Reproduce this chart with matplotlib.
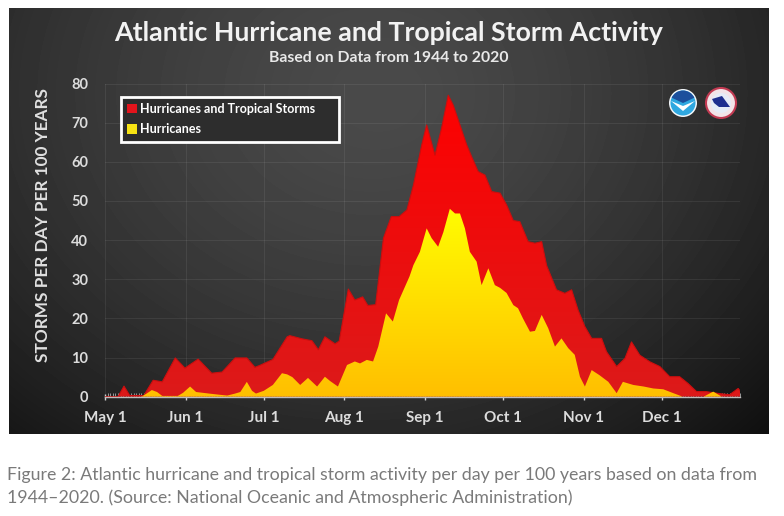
import numpy as np
import matplotlib.pyplot as plt
from matplotlib.patches import Patch, Polygon, Circle, Wedge
from matplotlib.colors import LinearSegmentedColormap

plt.rcParams['font.family'] = ['Lato', 'DejaVu Sans']

# day 0 = May 1, day 244 = Dec 31
month_days = [0, 31, 61, 92, 123, 153, 184, 214]
month_labels = ["May 1", "Jun 1", "Jul 1", "Aug 1", "Sep 1", "Oct 1", "Nov 1", "Dec 1"]
y_ticks = [0, 10, 20, 30, 40, 50, 60, 70, 80]

# hurricanes and tropical storms
all_days = [0, 5, 7.3, 9.5, 15, 16, 18.5, 22, 27, 30.7, 35.8, 41, 45, 50, 54.5,
            57.6, 59.5, 64.5, 70, 71, 75.6, 79.5, 82, 84.5, 88.4, 90, 93.5, 96,
            99, 101, 104, 107, 110, 113, 116, 118.5, 121.7, 123.6, 126.8, 129.3,
            131.9, 133.8, 136.4, 139, 140.9, 143.4, 146, 148.6, 151.8, 154.3,
            156.9, 159.4, 162.6, 165.2, 167.8, 169.7, 173.5, 176.7, 179.3, 181.8,
            184.4, 187, 190.8, 192.7, 196.6, 199.8, 202.3, 205.5, 209.4, 213.2,
            217, 220.8, 224, 227.3, 231, 236, 240, 243.3, 244]
all_storms = [0, 0, 2.7, 0.3, 0.3, 1.5, 4.2, 3.8, 9.9, 7.3, 9.6, 6, 6.3, 9.9, 9.9,
              7.5, 8, 9.5, 15.3, 15.6, 14.8, 14.3, 12, 15.3, 13.5, 14.2, 27.5, 24.7,
              25.5, 23.3, 23.5, 40.5, 46, 46, 47.7, 54, 64.3, 69.4, 61.7, 68.5,
              77, 74.5, 69.4, 64.3, 61.3, 57.5, 56.6, 52.4, 52, 49,
              45, 44.7, 39.6, 39.2, 39.6, 33.5, 27.3, 26.4, 27.3, 22.1,
              17.9, 14.9, 14.9, 11.5, 7.7, 9.8, 14, 10.6, 8.9, 7.7,
              5.1, 5.1, 3.4, 1.3, 1.3, 0.8, 0.5, 2.1, 1.5]

# hurricanes only
hur_days = [0, 14, 16, 18, 20, 22, 28, 30, 32.7, 35, 40, 44, 47, 50, 52, 54.5,
            56.5, 58, 61, 64.5, 68, 70, 72, 75, 78, 81.5, 84.5, 86.5, 89.5, 93,
            96, 98, 100.6, 103, 105, 108, 110.6, 113, 117, 118.5, 121, 123.6,
            125.5, 128, 130, 132.5, 134.5, 136.4, 138.3, 140.2, 142.8, 144.7,
            147.3, 149.8, 151.8, 154.3, 156.9, 158.7, 160.6, 163.3, 165.2, 167.8,
            170.3, 172.9, 175.4, 178, 180.5, 182.5, 184.4, 187, 190, 193.4,
            196.6, 199, 203, 207, 210.7, 214.5, 218, 222, 230, 233.7, 237, 244]
hur_storms = [0, 0, 0.8, 1.7, 1.2, 0.2, 0.2, 1, 2.6, 1.2, 0.8, 0.5, 0.3, 0.8, 1.2, 3.8,
              1.5, 0.8, 1.5, 3, 6, 5.7, 5, 3, 4.8, 2.6, 5.1, 4, 2.6, 8.1,
              9, 8.5, 9.4, 9, 12.8, 21.3, 19.2, 24.7, 30.7, 33.6, 37, 43,
              40.5, 38.3, 42, 48, 46.8, 46.8, 43, 37, 34.5, 28.5,
              32.8, 28.5, 27.8, 26.5, 23.4, 22.6, 20, 16.6, 16.8, 20.9,
              17.5, 12.8, 14.9, 12.4, 10.7, 5.1, 2.6, 6.8, 5.5, 3.8,
              0.9, 3.8, 3, 2.6, 2.1, 1.9, 1, 0, 0, 1.3, 0, 0]

W, H = 784, 516
fig = plt.figure(figsize=(W / 100, H / 100), dpi=100)
fig.patch.set_facecolor('white')

# dark panel with soft radial gradient
bg = fig.add_axes([9 / W, 1 - 434 / H, 760 / W, 426 / H], zorder=0)
yy, xx = np.mgrid[0:1:426j, 0:1:760j]
r = np.sqrt(((xx - 0.5) / 0.6) ** 2 + ((yy - 0.2) / 0.9) ** 2)
shade = np.clip(0.29 - 0.16 * r ** 1.5 - 0.03 * (xx - 0.5), 0.06, 0.3)
bg.imshow(shade, cmap='gray', vmin=0, vmax=1, extent=[0, 1, 0, 1], aspect='auto')
bg.axis('off')

ax = fig.add_axes([105 / W, 1 - 396.7 / H, 635 / W, 313.2 / H], zorder=1)
ax.set_facecolor('none')


def gradient_fill(x, y, c_bottom, c_top, top, z):
    verts = [(x[0], 0)] + list(zip(x, y)) + [(x[-1], 0)]
    poly = Polygon(verts, closed=True, facecolor='none', edgecolor='none')
    ax.add_patch(poly)
    cmap = LinearSegmentedColormap.from_list('g', [c_bottom, c_top])
    grad = np.linspace(0, 1, 256)[:, None]
    im = ax.imshow(grad, cmap=cmap, aspect='auto', origin='lower',
                   extent=[x[0], x[-1], 0, top], zorder=z)
    im.set_clip_path(poly)


gradient_fill(all_days, all_storms, '#dc1a1a', '#ff0000', 80, 1.5)
ax.plot(all_days, all_storms, color='#cc0e0e', lw=0.8, zorder=1.6)
gradient_fill(hur_days, hur_storms, '#ffbf00', '#ffff00', 50, 2)

ax.set_xlim(0, 244)
ax.set_ylim(0, 80)
ax.set_axisbelow(True)
ax.grid(True, which='major', color='white', alpha=0.07, lw=0.8)

ax.set_xticks(month_days, month_labels)
ax.set_xticks(np.arange(0, 245), minor=True)
ax.set_yticks(y_ticks)
ax.tick_params(axis='x', which='major', length=5, direction='inout', color='#cfcfcf',
               width=1, pad=8, labelcolor='#dcdcdc', labelsize=11)
ax.tick_params(axis='x', which='minor', length=3, direction='in', color='#c8c8c8', width=0.5)
ax.tick_params(axis='y', length=0, pad=12, labelcolor='#dcdcdc', labelsize=10.5)
for lbl in ax.get_xticklabels() + ax.get_yticklabels():
    lbl.set_fontweight('bold')
for s in ['top', 'right', 'left']:
    ax.spines[s].set_visible(False)
ax.spines['bottom'].set_color('#bdbdbd')
ax.spines['bottom'].set_linewidth(1)

handles = [Patch(facecolor='#e3141c', label='Hurricanes and Tropical Storms'),
           Patch(facecolor='#f7e313', label='Hurricanes')]
leg = ax.legend(handles=handles, loc='upper left',
                bbox_to_anchor=(121 / W, 1 - 97 / H, 218 / W, 0),
                bbox_transform=fig.transFigure, mode='expand', borderaxespad=0,
                fancybox=False, edgecolor='white', facecolor='#2d2d2d', framealpha=1,
                prop={'weight': 'bold', 'size': 9}, labelcolor='white',
                handlelength=0.75, handleheight=0.75, handletextpad=0.3,
                borderpad=0.5, labelspacing=0.65)
leg.get_frame().set_linewidth(2)

# agency logos, simplified
lg = fig.add_axes([665 / W, 1 - 119 / H, 75 / W, 32 / H], zorder=2)
lg.set_xlim(0, 75)
lg.set_ylim(0, 32)
lg.axis('off')
lg.add_patch(Circle((18, 16), 14, fc='#f4f8fb', ec='none'))
lg.add_patch(Circle((18, 16), 12.5, fc='#2fa8e0', ec='none'))
lg.add_patch(Wedge((18, 16), 12.5, 25, 155, fc='#1c4f9c', ec='none'))
lg.add_patch(Polygon([(6, 18), (18, 8), (30, 18), (18, 13)], fc='white', ec='none'))
lg.add_patch(Circle((56, 16), 15, fc='#f2e4e8', ec='#c23a52', lw=1.5))
lg.add_patch(Circle((56, 16), 10, fc='#e6ecf7', ec='none'))
lg.add_patch(Polygon([(47, 20), (57, 23), (65, 12), (54, 12), (49, 16)], fc='#1f2f8f', ec='none'))

fig.text(388.5 / W, 1 - 33 / H, 'Atlantic Hurricane and Tropical Storm Activity',
         ha='center', va='center', color='#f2f2f2', fontsize=19.3, fontweight='bold')
fig.text(388.5 / W, 1 - 58 / H, 'Based on Data from 1944 to 2020',
         ha='center', va='center', color='#e8e8e8', fontsize=11.3, fontweight='bold')
fig.text(43 / W, 1 - 225 / H, 'STORMS PER DAY PER 100 YEARS', rotation=90,
         ha='center', va='center', color='#e0e0e0', fontsize=12.4, fontweight='bold')

fig.text(7 / W, 1 - 475 / H,
         'Figure 2: Atlantic hurricane and tropical storm activity per day per 100 years based on data from',
         ha='left', va='center', color='#7a7a7a', fontsize=12.8, fontweight='normal')
fig.text(7 / W, 1 - 498 / H,
         '1944–2020. (Source: National Oceanic and Atmospheric Administration)',
         ha='left', va='center', color='#7a7a7a', fontsize=12.8, fontweight='normal')

fig.savefig('out.png', dpi=100)
